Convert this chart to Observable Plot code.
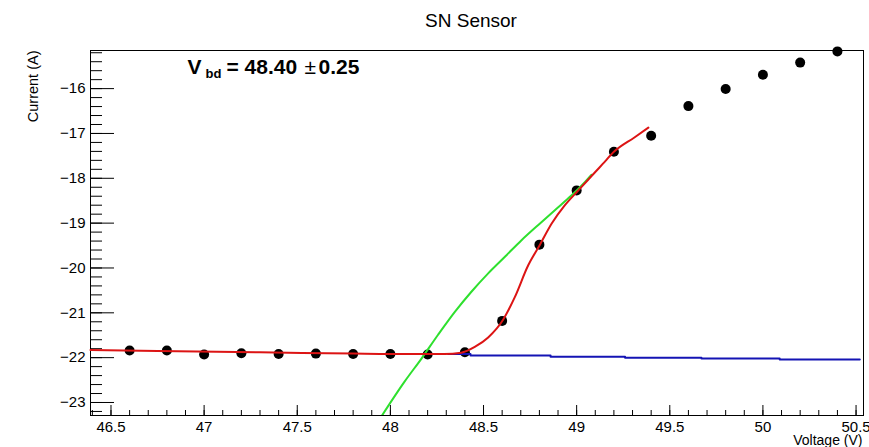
<!DOCTYPE html>
<html><head><meta charset="utf-8">
<script src="https://cdn.jsdelivr.net/npm/d3@7"></script>
<script src="https://cdn.jsdelivr.net/npm/@observablehq/plot@0.6"></script>
<style>body{margin:0;background:#fff;}</style>
</head><body><div id="chart"></div>
<script>
// Measured points
const voltage = [46.6, 46.8, 47.0, 47.2, 47.4, 47.6, 47.8, 48.0, 48.2, 48.4, 48.6, 48.8, 49.0, 49.2, 49.4, 49.6, 49.8, 50.0, 50.2, 50.4];
const current = [-21.84, -21.84, -21.93, -21.90, -21.92, -21.91, -21.92, -21.92, -21.93, -21.88, -21.18, -19.48, -18.27, -17.41, -17.05, -16.39, -16.01, -15.69, -15.42, -15.17];

// Red fit curve
const redV = [46.39, 46.75, 47.3, 47.8, 48.0, 48.29, 48.38, 48.453, 48.525, 48.606, 48.668, 48.74, 48.803, 48.866, 48.937, 49.009, 49.08, 49.14, 49.20, 49.31, 49.385];
const redI = [-21.83, -21.85, -21.88, -21.91, -21.92, -21.92, -21.89, -21.76, -21.55, -21.15, -20.65, -19.94, -19.48, -19.01, -18.60, -18.27, -17.95, -17.68, -17.41, -17.09, -16.87];

// Green curve
const greenV = [47.952, 48.077, 48.167, 48.256, 48.346, 48.435, 48.525, 48.615, 48.704, 48.794, 48.883, 48.973, 49.045, 49.08];
const greenI = [-23.31, -22.53, -22.02, -21.49, -20.98, -20.53, -20.12, -19.75, -19.38, -19.04, -18.71, -18.38, -18.08, -17.92];

// Blue baseline (stepped)
const blueV = [48.31, 48.43, 48.86, 49.26, 49.67, 50.09, 50.52];
const blueI = [-21.92, -21.95, -21.98, -22.00, -22.02, -22.04, -22.04];

// Ticks
const xMajor = [46.5, 47, 47.5, 48, 48.5, 49, 49.5, 50, 50.5];
const xMinor = d3.range(464, 506).map(d => d / 10);
const yMajor = [-16, -17, -18, -19, -20, -21, -22, -23];
const yMinor = d3.range(-232, -151, 2).map(d => d / 10);

const title = "SN Sensor";
const xTitle = "Voltage (V)";
const yTitle = "Current (A)";

const fmt = d => (d < 0 ? "\u2212" : "") + Math.abs(d);
const pts = voltage.map((v, i) => ({v, c: current[i]}));
const red = redV.map((v, i) => ({v, c: redI[i]}));
const green = greenV.map((v, i) => ({v, c: greenI[i]}));
const blue = blueV.map((v, i) => ({v, c: blueI[i]}));

const font = "'Liberation Sans', Arial, Helvetica, sans-serif";

const chart = Plot.plot({
  width: 869, height: 447,
  marginLeft: 90, marginRight: 6, marginTop: 50, marginBottom: 32,
  style: {fontFamily: font, fontSize: "15px", color: "#000", background: "#fff", overflow: "visible"},
  x: {domain: [46.39, 50.54], label: null},
  y: {domain: [-23.29, -15.15], label: null},
  marks: [
    Plot.axisX(xMinor, {tickSize: -5, text: null, label: null}),
    Plot.axisX(xMajor, {tickSize: -10, text: null, label: null}),
    Plot.axisX(xMajor, {tickSize: 0, tickPadding: 6, tickFormat: fmt, fontSize: 15, label: null}),
    Plot.axisY(yMinor, {tickSize: -12, text: null, label: null}),
    Plot.axisY(yMajor, {tickSize: -24, text: null, label: null}),
    Plot.axisY(yMajor, {tickSize: 0, tickPadding: 5, tickFormat: fmt, fontSize: 15, label: null}),
    Plot.frame({stroke: "#000"}),
    Plot.dot(pts, {x: "v", y: "c", r: 5, fill: "#000", stroke: "none"}),
    Plot.line(blue, {x: "v", y: "c", stroke: "#1414b4", strokeWidth: 2, curve: "step-after"}),
    Plot.line(green, {x: "v", y: "c", stroke: "#2ee02e", strokeWidth: 2, curve: "monotone-x", clip: true}),
    Plot.line(red, {x: "v", y: "c", stroke: "#dc1414", strokeWidth: 2, curve: "monotone-x"}),
    // Title
    Plot.text([title], {frameAnchor: "top", dx: -6, dy: -30, fontSize: 19, lineAnchor: "middle"}),
    // Axis titles
    Plot.text([xTitle], {frameAnchor: "bottom-right", dx: -1, dy: 29, fontSize: 14, textAnchor: "end", lineAnchor: "bottom"}),
    Plot.text([yTitle], {frameAnchor: "top-left", dx: -57, dy: 0, fontSize: 14.5, rotate: -90, textAnchor: "end", lineAnchor: "middle"}),
    // V_bd annotation
    Plot.text(["V"], {frameAnchor: "top-left", dx: 97, dy: 23, fontSize: 21, fontWeight: "bold", textAnchor: "start", lineAnchor: "bottom"}),
    Plot.text(["bd"], {frameAnchor: "top-left", dx: 115, dy: 27, fontSize: 13, fontWeight: "bold", textAnchor: "start", lineAnchor: "bottom"}),
    Plot.text(["= 48.40"], {frameAnchor: "top-left", dx: 136, dy: 23, fontSize: 21, fontWeight: "bold", textAnchor: "start", lineAnchor: "bottom"}),
    Plot.text(["\u00b1"], {frameAnchor: "top-left", dx: 214, dy: 23, fontSize: 21, textAnchor: "start", lineAnchor: "bottom"}),
    Plot.text(["0.25"], {frameAnchor: "top-left", dx: 228, dy: 23, fontSize: 21, fontWeight: "bold", textAnchor: "start", lineAnchor: "bottom"})
  ]
});
document.getElementById("chart").appendChild(chart);
</script>
</body></html>
